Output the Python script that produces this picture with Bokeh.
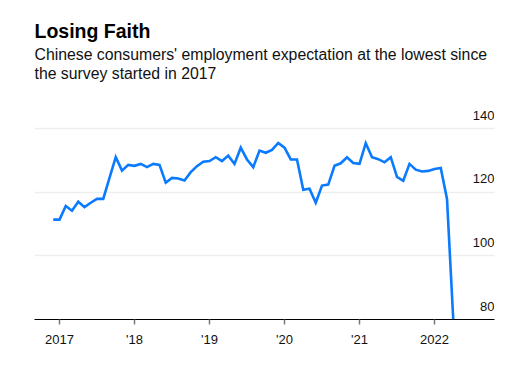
from bokeh.plotting import figure
from bokeh.models import Range1d, FixedTicker, Title, ColumnDataSource
from bokeh.core.properties import value
from bokeh.embed import file_html
from bokeh.resources import INLINE

# Monthly index, Dec 2016 .. Apr 2022
start_year, start_month = 2016, 12
values = [
    111.4,                                                     # Dec 2016
    111.4, 115.7, 114.2, 117.0, 115.3, 116.7, 117.9, 117.9, 124.5, 131.0, 126.8, 128.6,  # 2017
    128.3, 128.9, 127.9, 128.9, 128.6, 123.0, 124.5, 124.3, 123.7, 126.3, 128.2, 129.6,  # 2018
    129.8, 131.0, 129.8, 131.5, 128.9, 134.0, 130.3, 127.9, 133.1, 132.4, 133.3, 135.5,  # 2019
    134.0, 130.3, 130.3, 120.8, 121.1, 116.7, 122.1, 122.4, 128.3, 129.1, 131.0, 129.2,  # 2020
    128.9, 135.4, 131.0, 130.4, 129.4, 131.0, 124.8, 123.6, 128.9, 127.1, 126.5, 126.7,  # 2021
    127.3, 127.6, 117.9, 80.0,                                                           # 2022
]
x_ticks = [2017, 2018, 2019, 2020, 2021, 2022]
x_tick_labels = ["2017", "'18", "'19", "'20", "'21", "2022"]
y_ticks = [80, 100, 120, 140]
y_tick_labels = ["80", "100", "120", "140"]

title_text = "Losing Faith"
subtitle_lines = [
    "Chinese consumers' employment expectation at the lowest since",
    "the survey started in 2017",
]

xs = [start_year + (start_month - 1 + i) / 12 for i in range(len(values))]
src = ColumnDataSource(dict(x=xs, y=values))

FONT = "Liberation Sans"

p = figure(
    width=520, height=372,
    output_backend="svg", toolbar_location=None,
    x_range=Range1d(2016.6667, 2022.8),
    y_range=Range1d(80, 154.8),
    min_border_left=34, min_border_right=26,
    min_border_bottom=53, min_border_top=81,
    title=None,
)
p.outline_line_color = None
p.background_fill_color = "white"
p.border_fill_color = "white"

# grid
p.xgrid.visible = False
p.ygrid.ticker = FixedTicker(ticks=y_ticks)
p.ygrid.grid_line_color = "#eeeeee"
p.ygrid.grid_line_width = 1.5
p.yaxis.visible = False

# x axis
ax = p.xaxis[0]
ax.ticker = FixedTicker(ticks=x_ticks)
ax.major_label_overrides = {t: l for t, l in zip(x_ticks, x_tick_labels)}
ax.axis_line_color = "black"
ax.axis_line_width = 1.2
ax.major_tick_line_color = "#777777"
ax.major_tick_line_width = 1.5
ax.major_tick_in = 0
ax.major_tick_out = 5
ax.minor_tick_line_color = None
ax.major_label_standoff = 7
ax.major_label_text_font = FONT
ax.major_label_text_font_size = "13px"
ax.major_label_text_color = "#111111"

# y tick labels, drawn above their grid lines at the right edge
ysrc = ColumnDataSource(dict(x=[2022.8] * len(y_ticks), y=y_ticks, t=y_tick_labels))
p.text(x="x", y="y", text="t", source=ysrc, text_align="right",
       text_baseline="bottom", y_offset=-9, text_font=value(FONT),
       text_font_size="13px", text_color="#111111")

p.line(x="x", y="y", source=src, line_color="#0a7aff", line_width=2.6,
       line_join="miter")

# titles (added from the one closest to the plot outward)
p.add_layout(Title(text=subtitle_lines[1], align="left", text_font=FONT,
                   text_font_size="15.8px", text_font_style="normal",
                   text_color="#111111", standoff=0, offset=0), "above")
p.add_layout(Title(text=subtitle_lines[0], align="left", text_font=FONT,
                   text_font_size="15.8px", text_font_style="normal",
                   text_color="#111111", standoff=0, offset=0), "above")
p.add_layout(Title(text=title_text, align="left", text_font=FONT,
                   text_font_size="19.5px", text_font_style="bold",
                   text_color="black", standoff=4, offset=0), "above")

open("out.html", "w").write(file_html(p, INLINE))
